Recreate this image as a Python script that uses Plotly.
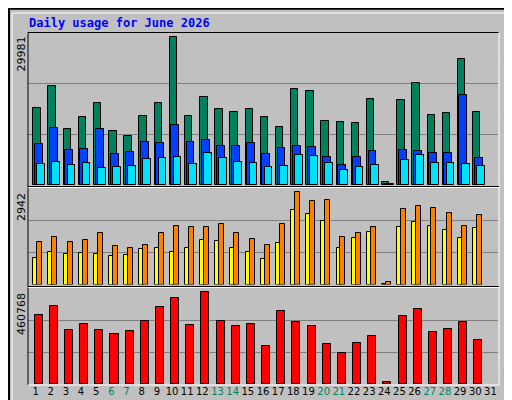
import plotly.graph_objects as go

days = list(range(1, 32))
day_labels = [str(d) for d in days]
weekend_days = [6, 7, 13, 14, 20, 21, 27, 28]

hits = [15601, 20010, 11463, 13905, 16551, 11056, 10039, 14109, 16551, 29981,
        14109, 17771, 15330, 14719, 15330, 13905, 11870, 19399, 18992, 13091,
        12888, 12684, 17364, 678, 17161, 20620, 14312, 14516, 25504, 14719]
files = [8411, 11667, 7190, 7393, 11463, 6376, 6783, 8818, 8614, 12277,
         8818, 9225, 8004, 8004, 8614, 6376, 7597, 8004, 7800, 5766,
         4138, 5766, 6986, 271, 7190, 6986, 6580, 6580, 18178, 5562]
pages = [4341, 4748, 4138, 4545, 3527, 3731, 3934, 5359, 5562, 5766,
         4341, 6580, 5562, 4748, 4545, 3731, 3934, 6172, 5969, 4545,
         3120, 3731, 4138, 136, 5155, 6172, 4545, 4545, 4341, 3934]
sites = [831, 1023, 959, 991, 959, 895, 927, 1119, 1151, 1023,
         1151, 1407, 1375, 1151, 1023, 800, 1311, 2367, 2239, 2015,
         1151, 1471, 1663, 32, 1823, 1983, 1855, 1727, 1471, 1791]
visits = [1343, 1503, 1343, 1407, 1631, 1215, 1151, 1247, 1631, 1855,
          1823, 1823, 1919, 1631, 1439, 1247, 1919, 2942, 2654, 2686,
          1503, 1631, 1823, 64, 2399, 2494, 2430, 2271, 1855, 2207]
kbytes = [344728, 390131, 274100, 304370, 274100, 253920, 269060, 314460, 385090, 430490,
          299320, 460768, 314460, 294280, 304370, 193380, 364910, 309410, 294280, 203470,
          158070, 208520, 243830, 11770, 339680, 374990, 264010, 279140, 309410, 223650]

GREY = "#C0C0C0"
W, H = 512, 400


def py(y):
    return 1 - y / H


def px(x):
    return x / W


fig = go.Figure()


def add_bar(vals, color, offset, width, axis):
    fig.add_trace(go.Bar(
        x=days[:len(vals)], y=vals, offset=offset, width=width,
        marker=dict(color=color, line=dict(color="black", width=1)),
        xaxis="x" if axis == 1 else "x%d" % axis,
        yaxis="y" if axis == 1 else "y%d" % axis,
        showlegend=False, hoverinfo="y",
    ))


add_bar(hits, "#00805C", -0.15, 0.49, 1)
add_bar(files, "#0040FF", -0.04, 0.52, 1)
add_bar(pages, "#00E0FF", 0.11, 0.51, 1)
add_bar(sites, "#FFFF00", -0.15, 0.28, 2)
add_bar(visits, "#FF8000", 0.11, 0.33, 2)
add_bar(kbytes, "#FF0000", -0.06, 0.53, 3)

xdom = [px(20), px(490)]
panels = [(25, 177, 30856), (181, 276.5, 3048), (281, 376, 477900)]

layout = dict(
    width=W, height=H, margin=dict(l=0, r=0, t=0, b=0),
    paper_bgcolor=GREY, plot_bgcolor=GREY, barmode="overlay", bargap=0,
    font=dict(family="DejaVu Sans", size=11, color="black"),
)
tick_text = []
for d in days:
    c = "#00805C" if d in weekend_days else "black"
    tick_text.append('<span style="color:%s">%d</span>' % (c, d))

for i, (top, bot, rng) in enumerate(panels, start=1):
    sfx = "" if i == 1 else str(i)
    layout["xaxis" + sfx] = dict(
        domain=xdom, range=[0.5, 31.5], anchor="y" + sfx,
        showgrid=False, zeroline=False, showline=False,
        tickvals=days if i == 3 else [], ticktext=tick_text if i == 3 else [],
        ticks="", tickangle=0, tickfont=dict(size=10), fixedrange=True,
    )
    layout["yaxis" + sfx] = dict(
        domain=[py(bot), py(top)], range=[0, rng], anchor="x" + sfx,
        tickvals=[rng / 3, 2 * rng / 3], showticklabels=False,
        gridcolor="#808080", gridwidth=1, zeroline=False, showline=False,
        fixedrange=True,
    )
fig.update_layout(**layout)

shapes = [
    dict(type="rect", xref="paper", yref="paper", x0=0.002, x1=0.998, y0=0.002, y1=0.998,
         line=dict(color="black", width=2)),
    dict(type="line", xref="paper", yref="paper", x0=px(4), x1=px(506), y0=py(5), y1=py(5),
         line=dict(color="white", width=1)),
    dict(type="line", xref="paper", yref="paper", x0=px(4), x1=px(4), y0=py(5), y1=py(395),
         line=dict(color="white", width=1)),
    dict(type="line", xref="paper", yref="paper", x0=px(20), x1=px(491), y0=py(24.5), y1=py(24.5),
         line=dict(color="black", width=1)),
    dict(type="line", xref="paper", yref="paper", x0=px(20), x1=px(20), y0=py(24.5), y1=py(377),
         line=dict(color="black", width=1)),
    dict(type="line", xref="paper", yref="paper", x0=px(20), x1=px(491), y0=py(377), y1=py(377),
         line=dict(color="white", width=1)),
    dict(type="line", xref="paper", yref="paper", x0=px(491), x1=px(491), y0=py(24.5), y1=py(377),
         line=dict(color="white", width=1)),
]
for y0 in (178.5, 278.5):
    shapes.append(dict(type="line", xref="paper", yref="paper", x0=px(20), x1=px(491),
                       y0=py(y0), y1=py(y0), line=dict(color="black", width=1)))
    shapes.append(dict(type="line", xref="paper", yref="paper", x0=px(20), x1=px(491),
                       y0=py(y0 + 1), y1=py(y0 + 1), line=dict(color="white", width=1)))
fig.update_layout(shapes=shapes)

mono = "DejaVu Sans Mono"
ann = [
    dict(text="<b>Daily usage for June 2026</b>", x=px(19), y=py(15), xanchor="left", yanchor="middle",
         font=dict(family=mono, size=12, color="#0000FF")),
    dict(text="29981", x=px(13), y=py(27), yanchor="top", textangle=-90,
         font=dict(family="DejaVu Sans", size=11)),
    dict(text="2942", x=px(13), y=py(183), yanchor="top", textangle=-90,
         font=dict(family="DejaVu Sans", size=11)),
    dict(text="460768", x=px(13), y=py(283), yanchor="top", textangle=-90,
         font=dict(family="DejaVu Sans", size=11)),
    dict(text='<span style="color:#00E0FF">Pages</span> / <span style="color:#0040FF">Files</span>'
              ' / <span style="color:#00805C">Hits</span>',
         x=px(500), y=py(28), yanchor="top", textangle=-90, font=dict(family=mono, size=11, color="black")),
    dict(text='<span style="color:#FF8000">Sites</span> / <span style="color:#FFFF00">Visits</span>',
         x=px(500), y=py(184), yanchor="top", textangle=-90, font=dict(family=mono, size=11, color="black")),
    dict(text="KBytes", x=px(500), y=py(376), yanchor="bottom", textangle=-90,
         font=dict(family=mono, size=11, color="#FF0000")),
]
for a in ann:
    a.update(xref="paper", yref="paper", showarrow=False)
    if a.get("textangle"):
        a["xanchor"] = "center"
fig.update_layout(annotations=ann)

fig.write_html("out.html")
